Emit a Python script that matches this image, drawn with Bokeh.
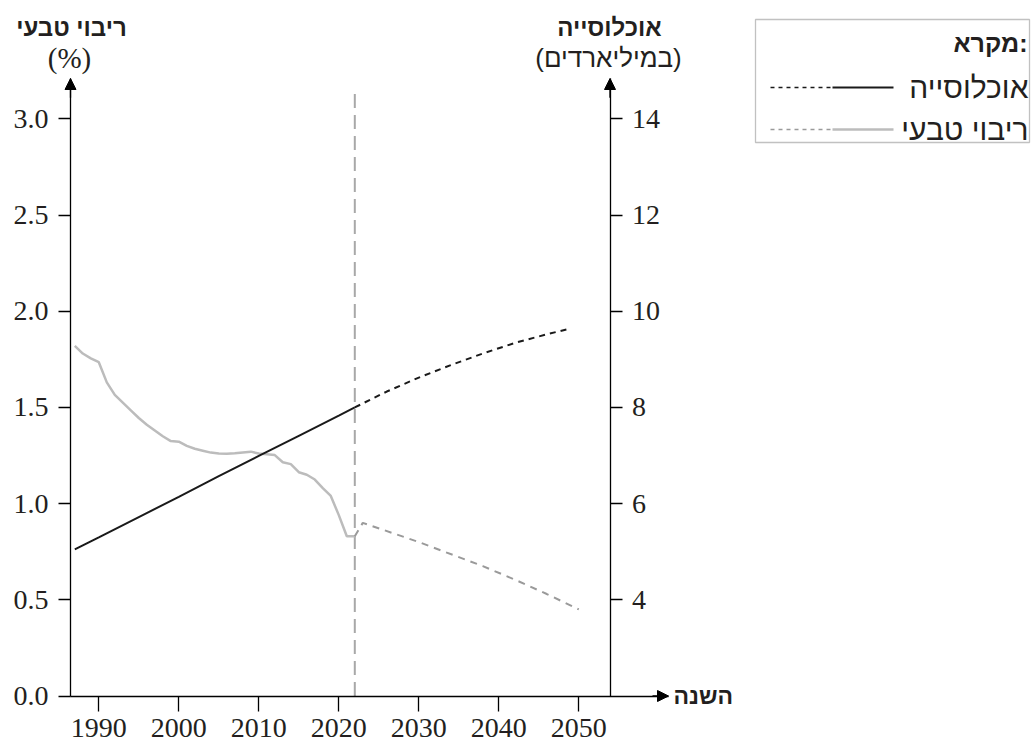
from bokeh.plotting import figure
from bokeh.models import (Range1d, LinearAxis, FixedTicker, NumeralTickFormatter,
                          Arrow, NormalHead, BoxAnnotation)
from bokeh.core.properties import value
from bokeh.embed import file_html
from bokeh.resources import INLINE

# ---------------- data ----------------
pop_hist_years = [1987, 1990, 1995, 2000, 2005, 2010, 2015, 2020, 2022]
pop_hist_values = [5.05, 5.30, 5.72, 6.14, 6.57, 6.99, 7.41, 7.83, 8.00]

pop_proj_years = [2022, 2026, 2030, 2034, 2038, 2042, 2046, 2049]
pop_proj_values = [8.00, 8.33, 8.62, 8.88, 9.12, 9.34, 9.52, 9.64]

growth_hist_years = [1987, 1988, 1989, 1990, 1991, 1992, 1993, 1994, 1995, 1996,
                     1997, 1998, 1999, 2000, 2001, 2002, 2003, 2004, 2005, 2006,
                     2007, 2008, 2009, 2010, 2011, 2012, 2013, 2014, 2015, 2016,
                     2017, 2018, 2019, 2020, 2021, 2022]
growth_hist_values = [1.82, 1.78, 1.755, 1.735, 1.63, 1.565, 1.525, 1.485, 1.445, 1.41,
                      1.38, 1.35, 1.325, 1.322, 1.30, 1.285, 1.275, 1.265, 1.26, 1.259,
                      1.262, 1.266, 1.27, 1.26, 1.256, 1.252, 1.215, 1.205, 1.163, 1.15,
                      1.125, 1.08, 1.04, 0.94, 0.83, 0.83]

growth_proj_years = [2022, 2023, 2030, 2038, 2042, 2046, 2050]
growth_proj_values = [0.83, 0.90, 0.80, 0.675, 0.605, 0.53, 0.45]

now_year = 2022
year_ticks = [1990, 2000, 2010, 2020, 2030, 2040, 2050]
growth_ticks = [0.0, 0.5, 1.0, 1.5, 2.0, 2.5, 3.0]
pop_ticks = [4, 6, 8, 10, 12, 14]

title_growth = "ריבוי טבעי"
unit_growth = "(%)"
title_pop = "אוכלוסייה"
unit_pop = "(במיליארדים)"
title_year = "השנה"
legend_title = "מקרא:"
legend_pop = "אוכלוסייה"
legend_growth = "ריבוי טבעי"

# ---------------- layout helpers (pixel -> data) ----------------
W, H = 1031, 742
PX_PER_YEAR = 8.0
X0_PX, X0_YEAR = 98.3, 1990        # pixel x of year 1990
Y0_PX, PX_PER_UNIT = 695.5, 192.4  # pixel y of 0 %, px per 1 %


def X(px):
    return X0_YEAR + (px - X0_PX) / PX_PER_YEAR


def Y(py):
    return (Y0_PX - py) / PX_PER_UNIT


x_lo, x_hi = X(0), X(W)
y_lo, y_hi = Y(H), Y(0)

left_x = X(70)
right_x = X(609.5)
axis_top = Y(78)
xaxis_end = X(668)

p = figure(width=W, height=H, x_range=Range1d(x_lo, x_hi), y_range=Range1d(y_lo, y_hi),
           x_axis_type=None, y_axis_type=None, toolbar_location=None,
           output_backend="svg", min_border=0, outline_line_color=None, title=None)
p.extra_y_ranges = {"pop": Range1d(2 + 4 * y_lo, 2 + 4 * y_hi)}
p.background_fill_color = "white"

TICK_FONT = "Liberation Serif"
HEB_FONT = "Liberation Sans"
INK = "#231f20"

axis_common = dict(axis_line_color="black", axis_line_width=1.3,
                   major_tick_line_color="black", major_tick_line_width=1.3,
                   major_tick_in=0, minor_tick_line_color=None,
                   major_label_text_font=TICK_FONT, major_label_text_font_size="28px",
                   major_label_text_color=INK)

left_axis = LinearAxis(fixed_location=left_x, ticker=FixedTicker(ticks=growth_ticks),
                       formatter=NumeralTickFormatter(format="0.0"),
                       bounds=(0, axis_top), major_tick_out=12, major_label_standoff=10,
                       **axis_common)
p.add_layout(left_axis, "left")

bottom_axis = LinearAxis(fixed_location=0, ticker=FixedTicker(ticks=year_ticks),
                         bounds=(left_x, xaxis_end), major_tick_out=15,
                         major_label_standoff=8, **axis_common)
p.add_layout(bottom_axis, "below")

right_axis = LinearAxis(y_range_name="pop", fixed_location=right_x,
                        ticker=FixedTicker(ticks=pop_ticks),
                        bounds=(2, 2 + 4 * axis_top), major_tick_out=12,
                        major_label_standoff=10, **axis_common)
p.add_layout(right_axis, "right")

for xs, ys, xe, ye in [(left_x, axis_top - 0.1, left_x, axis_top),
                       (right_x, axis_top - 0.1, right_x, axis_top),
                       (xaxis_end - 2, 0, xaxis_end, 0)]:
    p.add_layout(Arrow(end=NormalHead(size=11, fill_color="black", line_color="black",
                                      line_width=1),
                       x_start=xs, y_start=ys, x_end=xe, y_end=ye,
                       line_color="black", line_width=1.3))

# "now" divider
p.segment(x0=[now_year], y0=[0], x1=[now_year], y1=[Y(88)], line_color="#a8a8a8",
          line_width=2, line_dash="14 7")

# series
p.line(growth_hist_years, growth_hist_values, line_color="#bcbcbc", line_width=2.5)
p.line(growth_proj_years, growth_proj_values, line_color="#9a9a9a", line_width=2,
       line_dash="7 6")
p.line(pop_hist_years, pop_hist_values, y_range_name="pop", line_color="#1a1a1a",
       line_width=2)
p.line(pop_proj_years, pop_proj_values, y_range_name="pop", line_color="#1a1a1a",
       line_width=2, line_dash="6 5")

# axis titles
p.text(x=[X(71), X(609)], y=[Y(27), Y(27)], text=[title_growth, title_pop],
       text_font=value(HEB_FONT), text_font_style="bold", text_font_size="24px",
       text_color=INK, text_align="center", text_baseline="middle")
p.text(x=[X(69)], y=[Y(57)], text=[unit_growth], text_font=value(TICK_FONT),
       text_font_size="29px", text_color=INK, text_align="center",
       text_baseline="middle")
p.text(x=[X(608)], y=[Y(57)], text=[unit_pop], text_font=value(HEB_FONT),
       text_font_size="26px", text_color=INK, text_align="center",
       text_baseline="middle")
p.text(x=[X(673)], y=[0], text=[title_year], text_font=value(HEB_FONT),
       text_font_style="bold", text_font_size="23px", text_color=INK,
       text_align="left", text_baseline="middle")

# legend
p.add_layout(BoxAnnotation(left=X(755), right=X(1029), top=Y(19), bottom=Y(142),
                           fill_color=None, line_color="#333333", line_width=1.3))
p.text(x=[X(1027)], y=[Y(42)], text=[legend_title], text_font=value(HEB_FONT),
       text_font_style="bold", text_font_size="25px", text_color=INK,
       text_align="right", text_baseline="middle")
p.text(x=[X(1028), X(1028)], y=[Y(87), Y(129)], text=[legend_pop, legend_growth],
       text_font=value(HEB_FONT), text_font_size="30px", text_color=INK,
       text_align="right", text_baseline="middle")
p.line([X(770), X(832)], [Y(87), Y(87)], line_color="#1a1a1a", line_width=1.6,
       line_dash="4 4")
p.line([X(832), X(893)], [Y(87), Y(87)], line_color="#1a1a1a", line_width=2)
p.line([X(770), X(832)], [Y(129), Y(129)], line_color="#9a9a9a", line_width=1.6,
       line_dash="4 4")
p.line([X(832), X(893)], [Y(129), Y(129)], line_color="#bcbcbc", line_width=2.5)

open("out.html", "w").write(file_html(p, INLINE))
